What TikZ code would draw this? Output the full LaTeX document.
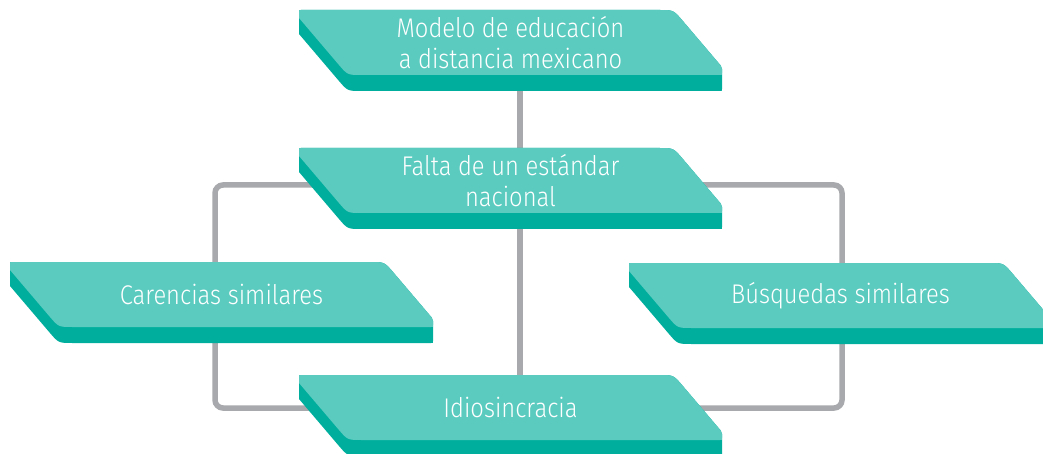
\documentclass[tikz,border=0pt]{standalone}
\usepackage{fontspec}
\setmainfont{Fira Sans Light}[FakeStretch=0.88]
\pgfdeclarelayer{lines}
\pgfdeclarelayer{shapes}
\pgfsetlayers{lines,shapes,main}
\definecolor{teallight}{RGB}{91,203,192}
\definecolor{tealdark}{RGB}{0,174,157}
\definecolor{linegray}{RGB}{167,169,172}
\tikzset{
  face/.style={minimum width=423pt, minimum height=65pt, inner sep=0pt, outer sep=0pt,
    align=center, text=white, font=\fontsize{27}{30.5}\selectfont},
  conn/.style={draw=linegray, line width=5.5pt, rounded corners=8pt}
}
\newcommand\tealshape[1]{%
  \begin{scope}[shift={(#1.north west)}]
    \fill[tealdark] (0,2) .. controls (0,0) .. (2,0) -- (360.5,0) .. controls (374.5,0) .. (383.6,10.7)
      -- (421.7,55.5) .. controls (423,57) .. (423,59) -- (423,79) .. controls (423,81) .. (421,81)
      -- (62.5,81) .. controls (48.5,81) .. (39.4,70.3) -- (0,24) -- cycle;
    \fill[teallight] (0,2) .. controls (0,0) .. (2,0) -- (360.5,0) .. controls (374.5,0) .. (383.6,10.7)
      -- (421.7,55.5) .. controls (423,57) .. (423,59) -- (423,63) .. controls (423,65) .. (421,65)
      -- (62.5,65) .. controls (48.5,65) .. (39.4,54.3) -- (0,8) -- cycle;
  \end{scope}}
\begin{document}
\begin{tikzpicture}[x=1pt,y=-1pt]
\useasboundingbox (0,0) rectangle (1043,454);
\clip (0,0) rectangle (1043,454);
\node[face] (b1) at (510.5,42.5) {Modelo de educación\\a distancia mexicano};
\node[face] (b2) at (510.5,180.5) {Falta de un estándar\\nacional};
\node[face] (b3) at (221.5,294.5) {Carencias similares};
\node[face] (b4) at (840.5,295.5) {Búsquedas similares};
\node[face] (b5) at (510.5,407.5) {Idiosincracia};
\begin{pgfonlayer}{lines}
  \draw[conn] ([xshift=9.5pt]b1.center) -- ([xshift=9.5pt]b2.center);
  \draw[conn] ([xshift=9.5pt]b2.center) -- ([xshift=9.5pt]b5.center);
  \draw[conn] ([yshift=-4.5pt]b2.center) -| ([xshift=-6.5pt]b3.center);
  \draw[conn] ([xshift=-6.5pt]b3.center) |- ([yshift=-0.5pt]b5.center);
  \draw[conn] ([yshift=-4.5pt]b2.center) -| ([xshift=1.5pt]b4.center);
  \draw[conn] ([xshift=1.5pt]b4.center) |- ([yshift=-0.5pt]b5.center);
\end{pgfonlayer}
\begin{pgfonlayer}{shapes}
  \tealshape{b1}
  \tealshape{b2}
  \tealshape{b3}
  \tealshape{b4}
  \tealshape{b5}
\end{pgfonlayer}
\end{tikzpicture}
\end{document}
